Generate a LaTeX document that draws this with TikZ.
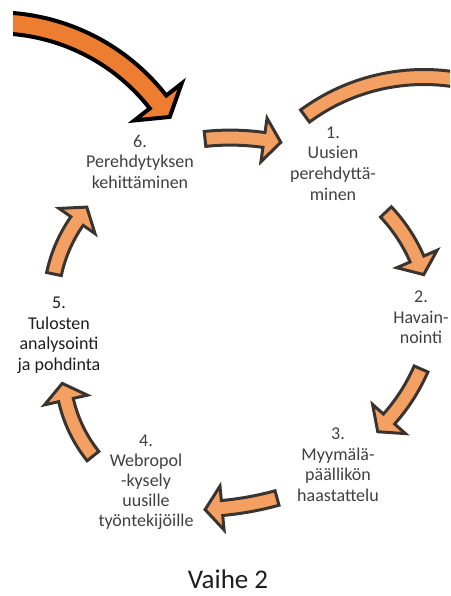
\documentclass[tikz,border=0pt]{standalone}
\usepackage{fontspec}
\setmainfont{Carlito}
\definecolor{arrowfill}{RGB}{244,160,98}
\definecolor{arrowedge}{RGB}{58,52,48}
\definecolor{bigfill}{RGB}{237,125,49}
\definecolor{labelgrey}{RGB}{64,64,64}
\definecolor{labeldark}{RGB}{30,30,30}

% Curved block arrow along a circular arc.
% #1 style, #2 cx, #3 cy, #4 radius, #5 start angle, #6 end angle (head base),
% #7 shaft width, #8 head half-span, #9 head length
\newcommand\cyclearrow[9][]{%
  \pgfmathsetmacro\arrsg{(#6>#5)?1:-1}%
  \pgfmathsetmacro\arrro{#4+#7/2}%
  \pgfmathsetmacro\arrri{#4-#7/2}%
  \pgfmathsetmacro\arrdir{#6+90*\arrsg}%
  \draw[#1] plot[domain=#5:#6, samples=40] ({#2+\arrro*cos(\x)},{#3+\arrro*sin(\x)})
    -- ({#2+(#4+#8)*cos(#6)},{#3+(#4+#8)*sin(#6)})
    -- ({#2+#4*cos(#6)+#9*cos(\arrdir)},{#3+#4*sin(#6)+#9*sin(\arrdir)})
    -- ({#2+(#4-#8)*cos(#6)},{#3+(#4-#8)*sin(#6)})
    -- plot[domain=#6:#5, samples=40] ({#2+\arrri*cos(\x)},{#3+\arrri*sin(\x)})
    -- cycle;
}
% Arc band without a head (continues beyond the frame)
\newcommand\arcband[7][]{%
  \pgfmathsetmacro\arrro{#4+#7/2}%
  \pgfmathsetmacro\arrri{#4-#7/2}%
  \draw[#1] plot[domain=#5:#6, samples=40] ({#2+\arrro*cos(\x)},{#3+\arrro*sin(\x)})
    -- plot[domain=#6:#5, samples=40] ({#2+\arrri*cos(\x)},{#3+\arrri*sin(\x)})
    -- cycle;
}

\tikzset{
  smallarrow/.style={fill=arrowfill, draw=arrowedge, line width=3pt, line join=miter},
  bigarrow/.style={fill=bigfill, draw=black, line width=4pt, line join=miter},
  % multi-line labels are placed by the baseline of their last line
  steplabel/.style={font=\fontsize{18}{20.5}\selectfont, text=labelgrey, align=center,
    anchor=base, inner sep=0pt},
  titlelabel/.style={font=\fontsize{27}{31}\selectfont, text=labeldark, anchor=base, inner sep=0pt}
}

\begin{document}
\begin{tikzpicture}[x=1pt,y=-1pt]
\useasboundingbox (0,0) rectangle (450,596);

% incoming arrow from the previous phase
\begin{scope}
  \clip (13,0) rectangle (450,596);
  \cyclearrow[bigarrow]{-4.3}{228.8}{206}{266}{322}{21}{30}{19}
\end{scope}

% arrow leaving towards the next phase
\begin{scope}
  \clip (0,0) rectangle (450,596);
  \arcband[smallarrow]{423.7}{277}{200}{233.6}{290}{15}
\end{scope}

% cycle arrows
\cyclearrow[smallarrow]{230.3}{379.6}{242}{-96}{-82}{15}{22}{17}     % 6 -> 1
\cyclearrow[smallarrow]{268.1}{323.4}{162.2}{-43.4}{-23.4}{15}{22}{17} % 1 -> 2
\cyclearrow[smallarrow]{247.1}{293}{189.8}{23.6}{41.6}{15}{22}{17}   % 2 -> 3
\cyclearrow[smallarrow]{192.4}{188.7}{320.7}{74.7}{84.7}{15}{22}{17} % 3 -> 4
\cyclearrow[smallarrow]{200.9}{369.6}{138.3}{141.3}{167.3}{15}{22}{17} % 4 -> 5
\cyclearrow[smallarrow]{195.8}{304.2}{145}{192}{215}{15}{22}{17}     % 5 -> 6

% step labels
\node[steplabel] (s6) at (140,188) {6.\\Perehdytyksen\\kehittäminen};
\node[steplabel] (s1) at (333,200) {1.\\Uusien\\perehdyttä-\\minen};
\node[steplabel] (s2) at (421,343.5) {2.\\Havain-\\nointi};
\node[steplabel] (s3) at (338,501) {3.\\Myymälä-\\päällikön\\haastattelu};
\node[steplabel, font=\fontsize{18}{20}\selectfont] (s4) at (146,526)
  {4.\\Webropol\\-kysely\\uusille\\työntekijöille};
\node[steplabel, text=labeldark] (s5) at (59,370) {5.\\Tulosten\\analysointi\\ja pohdinta};

\node[titlelabel] (title) at (228,588) {Vaihe 2};
\end{tikzpicture}
\end{document}
